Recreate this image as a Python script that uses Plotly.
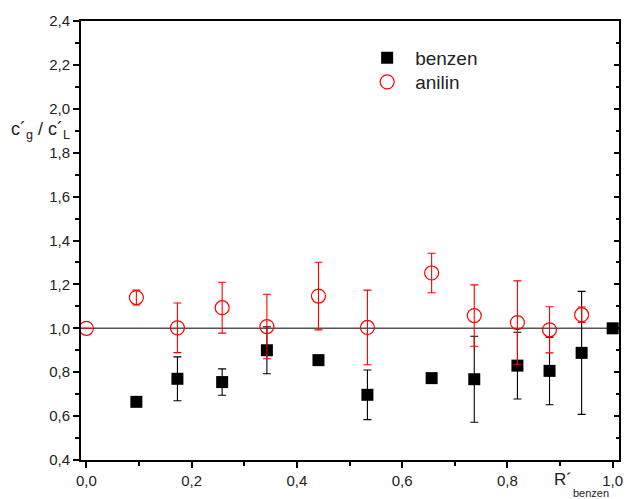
import plotly.graph_objects as go

# Data
benzen_x = [0.095, 0.173, 0.258, 0.343, 0.441, 0.534, 0.656, 0.737, 0.819, 0.880, 0.941, 1.0]
benzen_y = [0.665, 0.770, 0.755, 0.900, 0.855, 0.697, 0.773, 0.768, 0.830, 0.806, 0.888, 1.0]
benzen_err = [None, 0.10, 0.06, 0.107, None, 0.113, None, 0.196, 0.152, 0.154, 0.28, None]

anilin_x = [0.0, 0.095, 0.173, 0.258, 0.343, 0.441, 0.534, 0.656, 0.737, 0.819, 0.880, 0.941]
anilin_y = [1.0, 1.140, 1.002, 1.094, 1.008, 1.147, 1.004, 1.252, 1.058, 1.026, 0.993, 1.062]
anilin_err = [None, 0.034, 0.113, 0.116, 0.147, 0.154, 0.17, 0.09, 0.14, 0.19, 0.105, 0.035]

ref_level = 1.0

y_ticks = [0.4, 0.6, 0.8, 1.0, 1.2, 1.4, 1.6, 1.8, 2.0, 2.2, 2.4]
x_ticks = [0.0, 0.2, 0.4, 0.6, 0.8, 1.0]

FONT = "Liberation Sans, Arial, sans-serif"
Y_RANGE = [0.4, 2.4]

fig = go.Figure()

fig.add_trace(go.Scatter(
    x=benzen_x, y=benzen_y, mode="markers", name="benzen", legend="legend",
    marker=dict(symbol="square", size=12, color="black"),
    error_y=dict(type="data", array=benzen_err, color="black", thickness=1.1, width=4, visible=True),
))
fig.add_trace(go.Scatter(
    x=anilin_x, y=anilin_y, mode="markers", name="anilin", legend="legend2",
    marker=dict(symbol="circle-open", size=14, color="red", line=dict(width=1.2, color="red")),
    error_y=dict(type="data", array=anilin_err, color="red", thickness=1.1, width=4, visible=True),
))
# invisible helper trace so the right-hand tick axis is drawn
fig.add_trace(go.Scatter(x=[anilin_x[0]], y=[anilin_y[0]], yaxis="y2", mode="markers",
                         marker=dict(opacity=0), showlegend=False, hoverinfo="skip"))

fig.add_shape(type="line", xref="paper", x0=0, x1=1, yref="y", y0=ref_level, y1=ref_level,
              line=dict(color="#555555", width=1.5), layer="below")

axis_common = dict(
    showgrid=False, zeroline=False, showline=True, linecolor="black", linewidth=2,
    ticks="outside", ticklen=6, tickwidth=1.5, tickcolor="black",
    tickfont=dict(family=FONT, size=15, color="#222"), tickformat=".1f",
)

fig.update_xaxes(range=[-0.0102, 1.012], tickvals=x_ticks, mirror=True,
                 minor=dict(ticks="outside", dtick=0.1, tick0=0, ticklen=4, tickwidth=1.5, tickcolor="black"),
                 **axis_common)
fig.update_layout(yaxis=dict(range=Y_RANGE, tickvals=y_ticks, mirror=True,
                             minor=dict(ticks="outside", dtick=0.1, tick0=0.4, ticklen=4, tickwidth=1.5, tickcolor="black"),
                             **axis_common))
fig.update_layout(yaxis2=dict(overlaying="y", side="right", range=Y_RANGE, tickvals=y_ticks,
                              showgrid=False, zeroline=False, showline=False, showticklabels=False,
                              ticks="inside", ticklen=5, tickwidth=1.5, tickcolor="black",
                              minor=dict(ticks="inside", dtick=0.1, tick0=0.4, ticklen=3, tickwidth=1.5, tickcolor="black")))

fig.add_annotation(text="c´<sub>g</sub> / c´<sub>L</sub>", xref="paper", yref="y",
                   x=-0.134, y=1.9, xanchor="left", yanchor="middle", showarrow=False,
                   font=dict(family=FONT, size=18, color="#222"))
# x-axis title: main letter and subscript placed separately, as in the reference
fig.add_annotation(text="R´", xref="x", yref="paper",
                   x=0.884, y=-0.0455, xanchor="left", yanchor="middle", showarrow=False,
                   font=dict(family=FONT, size=17, color="#222"))
fig.add_annotation(text="benzen", xref="x", yref="paper",
                   x=0.921, y=-0.0755, xanchor="left", yanchor="middle", showarrow=False,
                   font=dict(family=FONT, size=11, color="#222"))

legend_common = dict(xanchor="left", yanchor="top", bgcolor="rgba(0,0,0,0)",
                     font=dict(family=FONT, size=19, color="#222"), itemwidth=46)

fig.update_layout(
    width=631, height=499,
    margin=dict(l=81, r=8, t=21, b=39),
    paper_bgcolor="white", plot_bgcolor="white",
    separators=", ",
    showlegend=True,
    legend=dict(x=0.517, y=0.959, **legend_common),
    legend2=dict(x=0.517, y=0.9043, **legend_common),
)

fig.write_html("out.html", post_script="document.body.style.margin='0px';",
               config={"displayModeBar": False})
